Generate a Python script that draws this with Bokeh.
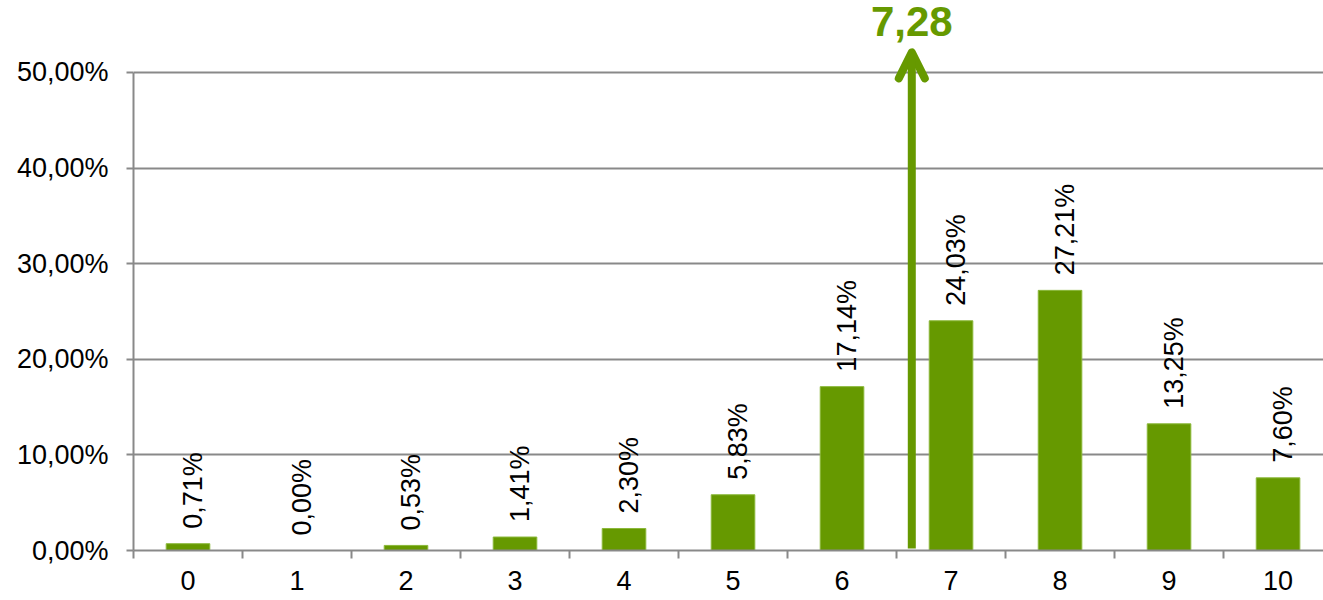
import math
from bokeh.plotting import figure
from bokeh.models import ColumnDataSource, FixedTicker, Range1d, Arrow, OpenHead, Label
from bokeh.embed import file_html
from bokeh.resources import INLINE
from bokeh.core.properties import value

# ---- data ----
categories = [0, 1, 2, 3, 4, 5, 6, 7, 8, 9, 10]
shares = [0.71, 0.00, 0.53, 1.41, 2.30, 5.83, 17.14, 24.03, 27.21, 13.25, 7.60]
bar_labels = ["0,71%", "0,00%", "0,53%", "1,41%", "2,30%", "5,83%",
              "17,14%", "24,03%", "27,21%", "13,25%", "7,60%"]
y_ticks = [0, 10, 20, 30, 40, 50]
y_tick_labels = ["0,00%", "10,00%", "20,00%", "30,00%", "40,00%", "50,00%"]
x_tick_labels = [str(c) for c in categories]
mean_label = "7,28"
arrow_x = 6.64          # horizontal position of the mean marker (category units)

GREEN = "#669900"
GRID = "#898989"
FONT = "Liberation Sans"
FS = "27px"

p = figure(width=1323, height=600, output_backend="svg", toolbar_location=None,
           x_range=Range1d(-0.5, 10.417), y_range=Range1d(0, 57.53),
           min_border_left=133, min_border_top=0, min_border_right=0,
           min_border_bottom=50)
p.outline_line_color = None
p.background_fill_color = "white"
p.border_fill_color = "white"

src = ColumnDataSource(dict(x=categories, top=shares, lab=bar_labels))
p.vbar(x="x", top="top", width=0.4, bottom=0, source=src,
       fill_color=GREEN, line_color="#8BB83A", line_width=1)

p.text(x="x", y="top", text="lab", source=src, angle=math.pi / 2,
       text_align="left", text_baseline="middle", x_offset=5, y_offset=-15,
       text_font=value(FONT), text_font_size=FS, text_color="black")

# grid
p.xgrid.visible = False
p.ygrid.ticker = FixedTicker(ticks=y_ticks)
p.ygrid.grid_line_color = GRID
p.ygrid.grid_line_width = 2

# y axis
ya = p.yaxis[0]
ya.ticker = FixedTicker(ticks=y_ticks)
ya.bounds = (0, 50)
ya.major_label_overrides = {t: l for t, l in zip(y_ticks, y_tick_labels)}
ya.axis_line_color = GRID
ya.axis_line_width = 2
ya.major_tick_line_color = GRID
ya.major_tick_line_width = 2
ya.major_tick_out = 7
ya.major_tick_in = 0
ya.minor_tick_line_color = None
ya.major_label_standoff = 18
ya.major_label_text_font = FONT
ya.major_label_text_font_size = FS
ya.major_label_text_color = "black"

# x axis
xa = p.xaxis[0]
xa.ticker = FixedTicker(ticks=categories, minor_ticks=[c - 0.5 for c in categories] + [10.5])
xa.major_label_overrides = {c: l for c, l in zip(categories, x_tick_labels)}
xa.axis_line_color = GRID
xa.axis_line_width = 2
xa.major_tick_line_color = None
xa.major_tick_out = 0
xa.major_tick_in = 0
xa.minor_tick_line_color = GRID
xa.minor_tick_line_width = 2
xa.minor_tick_out = 8
xa.minor_tick_in = 0
xa.major_label_standoff = 12
xa.major_label_text_font = FONT
xa.major_label_text_font_size = FS
xa.major_label_text_color = "black"

# mean marker
p.add_layout(Arrow(end=OpenHead(size=26, line_width=8, line_color=GREEN,
                                line_join="round", line_cap="round"),
                   x_start=arrow_x, y_start=0.2, x_end=arrow_x, y_end=52.1,
                   line_width=8, line_color=GREEN))
p.add_layout(Label(x=arrow_x, y=56.8, text=mean_label, text_align="center",
                   text_baseline="top", text_font=FONT,
                   text_font_size="42px", text_font_style="bold",
                   text_color=GREEN))

open("out.html", "w").write(file_html(p, INLINE))
